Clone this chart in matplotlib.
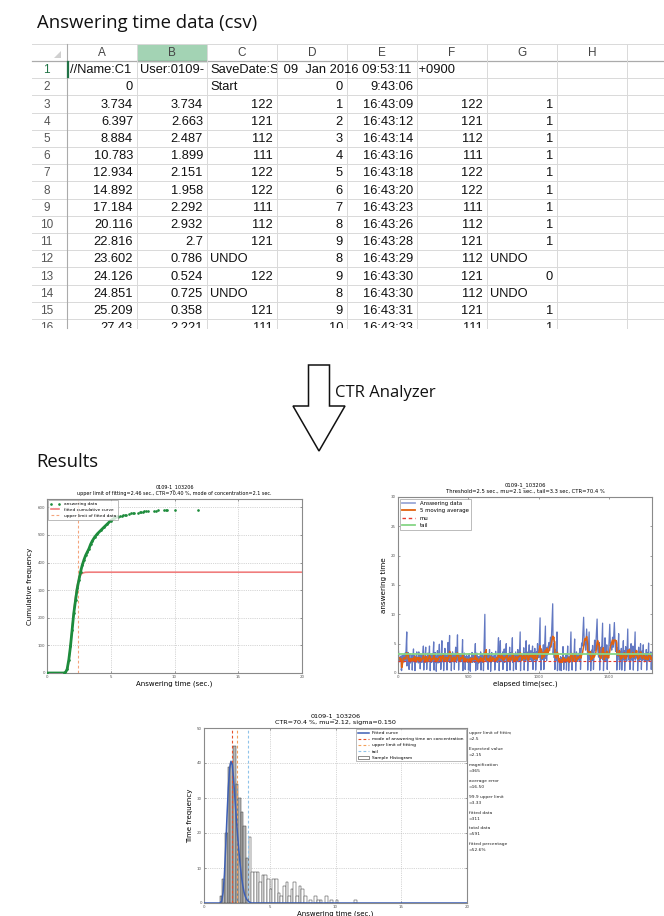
import numpy as np
import matplotlib
matplotlib.use("Agg")
import matplotlib.pyplot as plt
from matplotlib.patches import Polygon, Rectangle, Patch
from matplotlib.lines import Line2D

# ---------------- data ----------------
col_letters = ['A', 'B', 'C', 'D', 'E', 'F', 'G', 'H']
row1_cells = ['//Name:C1', 'User:0109-', 'SaveDate:S', ' 09  Jan 2016 09:53:11  +0900']
sheet_rows = [
    ['0', '', 'Start', '0', '9:43:06', '', ''],
    ['3.734', '3.734', '122', '1', '16:43:09', '122', '1'],
    ['6.397', '2.663', '121', '2', '16:43:12', '121', '1'],
    ['8.884', '2.487', '112', '3', '16:43:14', '112', '1'],
    ['10.783', '1.899', '111', '4', '16:43:16', '111', '1'],
    ['12.934', '2.151', '122', '5', '16:43:18', '122', '1'],
    ['14.892', '1.958', '122', '6', '16:43:20', '122', '1'],
    ['17.184', '2.292', '111', '7', '16:43:23', '111', '1'],
    ['20.116', '2.932', '112', '8', '16:43:26', '112', '1'],
    ['22.816', '2.7', '121', '9', '16:43:28', '121', '1'],
    ['23.602', '0.786', 'UNDO', '8', '16:43:29', '112', 'UNDO'],
    ['24.126', '0.524', '122', '9', '16:43:30', '121', '0'],
    ['24.851', '0.725', 'UNDO', '8', '16:43:30', '112', 'UNDO'],
    ['25.209', '0.358', '121', '9', '16:43:31', '121', '1'],
    ['27.43', '2.221', '111', '10', '16:43:33', '111', '1'],
]

# cumulative chart
cum_x = [0, 1.3, 1.45, 1.58, 1.71, 1.84, 1.97, 2.1, 2.24, 2.37, 2.5, 2.63, 2.76, 2.9, 3.03,
         3.16, 3.29, 3.42, 3.55, 3.74, 3.95, 4.21, 4.47, 4.74, 5.0, 5.26, 5.53]
cum_y = [0, 0, 2, 14, 48, 96, 156, 216, 264, 306, 336, 366, 390, 410, 426,
         438, 450, 466, 478, 492, 504, 516, 528, 540, 552, 560, 566]
tail_x = [5.74, 5.85, 5.97, 6.08, 6.18, 6.45, 6.58, 6.71, 6.84, 7.16, 7.27, 7.39, 7.5,
          7.63, 7.77, 7.9, 8.37, 8.52, 8.68, 9.2, 9.3, 9.4, 10.0, 11.84]
tail_y = [569, 570, 571, 572, 573, 577, 578, 579, 580, 581, 582, 583, 584,
          585, 586, 587, 588, 588, 589, 589, 590, 590, 590, 591]
fitcum_x = [0, 1.3, 1.45, 1.6, 1.7, 1.8, 1.9, 2.0, 2.1, 2.2, 2.3, 2.4, 2.5, 2.6, 2.7,
            2.8, 3.0, 3.3, 20]
fitcum_y = [0, 0, 2, 14, 40, 80, 125, 175, 220, 262, 297, 322, 340, 352, 359,
            362, 364.5, 365, 365]
upper_limit_fitted = 2.46

# answering-time series (sec)
answer_times = [
    3.7, 2.7, 2.5, 1.9, 2.2, 2.0, 2.3, 2.9, 2.7, 0.8, 0.5, 0.7, 0.4, 2.2, 3.0, 2.5, 1.8, 2.4, 3.1, 2.6,
    2.1, 1.9, 3.4, 2.2, 2.8, 7.0, 1.2, 2.0, 2.6, 3.5, 2.3, 1.8, 2.4, 0.6, 2.9, 3.3, 2.1, 1.7, 2.2, 2.5,
    2.0, 2.3, 3.1, 0.5, 2.6, 2.2, 4.1, 1.9, 2.4, 3.0, 2.7, 0.4, 2.1, 2.5, 1.8, 2.9, 3.6, 2.2, 2.0, 2.6,
    2.4, 1.7, 3.6, 2.2, 2.9, 1.9, 2.3, 0.7, 2.6, 3.2, 2.1, 2.5, 1.8, 2.7, 3.1, 4.6, 2.2, 0.5, 2.4, 1.9,
    2.2, 3.0, 4.4, 1.8, 2.5, 2.1, 0.6, 2.8, 2.3, 3.4, 1.9, 2.6, 2.2, 4.6, 2.0, 2.7, 0.4, 3.1, 2.4, 1.8,
    2.6, 2.1, 3.3, 1.9, 2.4, 5.3, 2.0, 0.5, 2.7, 2.2, 3.5, 1.8, 2.3, 2.9, 0.3, 2.5, 2.0, 3.8, 2.2, 1.7,
    2.3, 2.8, 4.9, 2.0, 1.8, 2.5, 3.1, 0.6, 2.2, 5.5, 2.4, 1.9, 2.6, 3.3, 2.1, 0.4, 2.7, 2.0, 4.2, 2.3,
    2.1, 2.6, 1.9, 3.0, 2.4, 0.5, 2.2, 5.2, 2.0, 2.7, 6.4, 1.8, 2.3, 3.4, 2.0, 2.5, 0.4, 2.9, 2.2, 3.6,
    2.4, 1.9, 2.6, 3.2, 2.1, 0.6, 2.3, 2.8, 4.4, 2.0, 2.5, 1.8, 6.5, 2.2, 3.0, 2.4, 0.5, 2.6, 2.1, 3.3,
    2.2, 2.7, 1.9, 2.4, 3.1, 2.0, 5.7, 2.3, 0.4, 2.6, 1.8, 2.5, 3.4, 2.1, 2.8, 0.6, 2.2, 1.9, 2.4, 3.0,
    2.1, 2.5, 1.8, 2.3, 2.9, 2.0, 0.5, 2.4, 3.3, 2.2, 1.9, 2.6, 0.3, 2.1, 2.7, 2.0, 2.4, 3.5, 1.8, 2.3,
    2.6, 2.0, 3.1, 2.3, 1.8, 2.5, 5.0, 2.2, 0.4, 2.7, 2.1, 3.4, 1.9, 2.4, 0.6, 2.0, 2.8, 2.3, 1.7, 2.5,
    2.2, 2.9, 1.9, 3.6, 2.4, 0.5, 2.1, 2.6, 3.2, 2.0, 2.4, 1.8, 2.7, 0.4, 10.0, 2.3, 3.1, 2.0, 2.5, 1.9,
    2.4, 2.0, 2.7, 3.3, 0.6, 2.2, 1.8, 2.5, 4.0, 2.1, 2.6, 2.9, 0.3, 2.3, 1.9, 3.5, 2.2, 2.8, 2.0, 2.4,
    2.1, 2.6, 3.0, 1.9, 2.4, 0.5, 2.2, 3.7, 2.8, 2.0, 2.5, 2.3, 1.8, 2.9, 6.0, 2.1, 2.4, 0.4, 2.7, 5.5,
    2.3, 1.9, 3.2, 2.6, 2.0, 2.4, 3.6, 0.6, 2.2, 2.8, 4.1, 2.1, 1.8, 2.5, 3.0, 5.0, 2.2, 2.7, 0.4, 2.3,
    2.6, 3.3, 2.0, 2.4, 1.9, 4.4, 2.2, 0.5, 2.8, 2.1, 3.5, 2.3, 6.0, 1.8, 2.5, 2.9, 0.4, 2.2, 3.1, 2.0,
    2.4, 2.9, 3.6, 2.1, 0.6, 2.7, 3.2, 2.2, 4.0, 1.9, 2.5, 3.4, 2.0, 7.0, 2.3, 0.4, 2.8, 3.1, 2.2, 2.6,
    2.5, 3.1, 2.2, 4.3, 2.7, 0.5, 3.4, 2.1, 2.9, 5.5, 2.4, 3.6, 2.0, 2.8, 0.4, 3.3, 2.6, 4.8, 2.2, 3.0,
    2.3, 3.8, 2.6, 2.0, 3.2, 4.6, 2.4, 0.6, 3.5, 2.9, 2.2, 4.2, 2.7, 3.1, 0.5, 2.5, 3.6, 2.1, 5.0, 2.8,
    3.4, 2.6, 9.4, 2.2, 3.0, 0.5, 4.1, 2.7, 3.6, 2.3, 4.8, 2.9, 0.6, 3.2, 8.0, 2.5, 3.9, 2.1, 4.4, 3.1,
    4.6, 5.2, 3.8, 6.1, 4.4, 11.8, 3.2, 5.0, 2.6, 4.1, 0.6, 2.4, 3.5, 2.1, 7.0, 2.8, 0.4, 2.3, 3.3, 2.0,
    2.5, 1.9, 2.2, 0.5, 2.4, 2.0, 2.8, 1.8, 2.3, 0.4, 2.1, 2.6, 1.9, 2.2, 4.5, 2.0, 2.4, 0.6, 2.7, 2.1,
    2.3, 1.8, 2.6, 2.0, 3.1, 2.2, 0.5, 2.4, 1.9, 4.6, 2.1, 2.5, 2.0, 0.4, 2.3, 2.8, 1.9, 2.2, 7.0, 2.6,
    2.2, 2.7, 0.5, 2.4, 2.0, 3.3, 2.6, 2.1, 5.8, 2.3, 1.9, 2.8, 0.4, 2.5, 3.6, 2.2, 2.9, 2.0, 3.1, 2.4,
    2.6, 3.4, 2.1, 4.2, 2.8, 0.6, 3.0, 5.1, 4.6, 9.5, 4.8, 5.3, 3.9, 7.5, 4.4, 2.6, 0.5, 3.2, 7.0, 2.4,
    2.2, 3.5, 2.8, 0.4, 2.5, 3.9, 2.1, 4.7, 2.6, 3.1, 0.6, 2.4, 5.6, 3.8, 4.9, 9.2, 4.1, 3.3, 2.7, 5.2,
    2.4, 0.5, 3.0, 2.2, 4.4, 2.7, 8.5, 2.3, 3.6, 0.4, 2.9, 2.1, 6.0, 2.6, 3.2, 2.0, 4.8, 2.5, 0.6, 3.4,
    2.8, 3.5, 8.3, 4.6, 5.2, 3.9, 6.1, 4.4, 8.6, 5.0, 3.7, 5.5, 2.6, 0.5, 4.3, 2.2, 6.7, 2.9, 3.1, 0.6,
    2.4, 3.6, 2.1, 4.2, 2.7, 0.5, 3.3, 2.5, 5.5, 2.2, 3.8, 2.9, 0.4, 2.6, 4.5, 2.3, 3.1, 2.0, 7.5, 2.8,
    3.4, 2.2, 4.1, 2.6, 0.6, 3.0, 5.0, 2.4, 3.5, 2.1, 4.6, 2.8, 0.5, 3.3, 2.5, 7.0, 2.2, 3.9, 2.7, 3.1,
    2.5, 3.2, 0.4, 2.7, 4.4, 2.1, 3.6, 2.9, 5.0, 2.3, 3.0, 0.6, 2.6, 3.8, 2.2, 4.8, 2.4, 3.1, 2.0, 1.9,
    2.6, 3.3, 2.1, 4.0, 2.4, 0.5, 2.8, 3.5, 2.2, 5.1, 2.7, 2.0, 3.0, 2.5, 2.3, 3.6, 2.2, 0.6, 2.9, 2.4,
]
mu_value = 2.1
tail_value = 3.3

# histogram chart
hist_left = [1.2, 1.4, 1.6, 1.8, 2.0, 2.2, 2.4, 2.6, 2.8, 3.0, 3.2, 3.4, 3.6, 3.8, 4.0, 4.2, 4.4,
             4.6, 4.8, 5.0, 5.2, 5.4, 5.6, 5.8, 6.0, 6.2, 6.4, 6.6, 6.8, 7.0, 7.2, 7.4, 7.6,
             8.0, 8.4, 8.6, 8.8, 9.2, 9.6, 10.0, 11.4]
hist_counts = [2, 7, 20, 39, 40, 45, 34, 30, 26, 22, 13, 19, 9, 9, 9, 6, 8,
               8, 7, 4, 7, 7, 3, 2, 5, 6, 2, 4, 6, 2, 5, 4, 2,
               1, 2, 1, 1, 2, 1, 1, 1]
hist_width = 0.2
fitpdf_x = [0, 1.2, 1.35, 1.45, 1.55, 1.65, 1.75, 1.85, 1.95, 2.05, 2.15, 2.25, 2.35, 2.45,
            2.55, 2.65, 2.75, 2.85, 2.95, 3.05, 3.15, 3.25, 3.4, 3.6, 20]
fitpdf_y = [0, 0, 0.5, 3, 8, 16, 25, 33, 38.5, 40.5, 39.5, 35.5, 30, 24.5,
            19.5, 15, 11, 7.5, 5, 3, 1.8, 1, 0.4, 0, 0]
mode_line = 2.1
upper_fit_line = 2.5
tail_line = 3.33
stat_labels = ['upper limit of fitting', 'Expected value', 'magnification', 'average error',
               '99.9 upper limit', 'fitted data', 'total data', 'fitted percentage']
stat_values = ['=2.5', '=2.15', '=365', '=16.50', '=3.33', '=311', '=591', '=52.6%']

# ---------------- figure ----------------
W, H = 664, 916
fig = plt.figure(figsize=(W / 100, H / 100), dpi=100)
fig.patch.set_facecolor('white')
ax0 = fig.add_axes([0, 0, 1, 1])
ax0.set_xlim(0, W)
ax0.set_ylim(H, 0)
ax0.axis('off')

HEAD_FONT = ['Open Sans', 'DejaVu Sans']
CELL_FONT = ['Liberation Sans', 'DejaVu Sans']
CELL_FS = 9.3

ax0.text(37, 23, 'Answering time data (csv)', fontsize=13.3, family=HEAD_FONT,
         va='center', ha='left', color='#111111')

# spreadsheet geometry
rn_x0, rn_x1 = 32, 67
col_w = 70
hdr_top, hdr_bot = 44, 61
row_h = 17.2
clip_y = 328
n_rows = 16
col_edges = [rn_x1 + i * col_w for i in range(10)]
grid_c = '#d9d9d9'


def clip_box(x0, y0, x1, y1):
    return Rectangle((x0, y0), x1 - x0, y1 - y0, transform=ax0.transData)


# green header B
ax0.add_patch(Rectangle((col_edges[1], hdr_top), col_w, hdr_bot - hdr_top,
                        facecolor='#a3d3b4', edgecolor='none'))
ax0.plot([col_edges[1], col_edges[2]], [hdr_bot - 0.5, hdr_bot - 0.5], color='#5f9e74', lw=1.0)
# corner triangle
ax0.add_patch(Polygon([[rn_x1 - 6, hdr_bot - 10], [rn_x1 - 6, hdr_bot - 3], [rn_x1 - 13, hdr_bot - 3]],
                      closed=True, facecolor='#d0d0d0', edgecolor='none'))

# horizontal lines
ax0.plot([rn_x0, W], [hdr_top, hdr_top], color=grid_c, lw=0.7)
ax0.plot([rn_x0, W], [hdr_bot, hdr_bot], color='#ababab', lw=0.9)
for i in range(1, n_rows):
    y = hdr_bot + i * row_h
    ax0.plot([rn_x0, W], [y, y], color=grid_c, lw=0.7)
# vertical lines
for i, x in enumerate(col_edges):
    if x > W:
        break
    c = '#ababab' if i == 0 else grid_c
    ax0.plot([x, x], [hdr_top, clip_y], color=c, lw=0.8 if i == 0 else 0.7)
# selection marker on row 1
ax0.plot([rn_x1 + 1, rn_x1 + 1], [hdr_bot + 1, hdr_bot + row_h - 1], color='#217346', lw=1.6)

# header letters
for i, L in enumerate(col_letters):
    ax0.text(col_edges[i] + col_w / 2, (hdr_top + hdr_bot) / 2 + 0.5, L, ha='center', va='center',
             fontsize=8.5, family=CELL_FONT, color='#444444')

# row numbers
for r in range(1, n_rows + 1):
    yc = hdr_bot + (r - 0.5) * row_h + 0.5
    t = ax0.text((rn_x0 + rn_x1) / 2 - 3, yc, str(r), ha='center', va='center', fontsize=8.5,
                 family=CELL_FONT, color='#217346' if r == 1 else '#555555', clip_on=True)
    t.set_clip_path(clip_box(0, 0, W, clip_y))

# row 1 texts (overflowing, clipped per cell)
yc1 = hdr_bot + 0.5 * row_h + 0.5
for j, s in enumerate(row1_cells):
    x0 = col_edges[j]
    x1 = col_edges[j + 1] if j < 3 else W
    t = ax0.text(x0 + 3, yc1, s, ha='left', va='center', fontsize=CELL_FS, family=CELL_FONT,
                 color='#111111', clip_on=True)
    t.set_clip_path(clip_box(x0 + 1, 0, x1, H))

# rows 2..16
for k, row in enumerate(sheet_rows):
    r = k + 2
    yc = hdr_bot + (r - 0.5) * row_h + 0.5
    for j, s in enumerate(row):
        if s == '':
            continue
        if s in ('Start', 'UNDO'):
            t = ax0.text(col_edges[j] + 3, yc, s, ha='left', va='center', fontsize=CELL_FS,
                         family=CELL_FONT, color='#111111', clip_on=True)
        else:
            t = ax0.text(col_edges[j + 1] - 4, yc, s, ha='right', va='center', fontsize=CELL_FS,
                         family=CELL_FONT, color='#111111', clip_on=True)
        t.set_clip_path(clip_box(0, 0, W, clip_y))

# arrow
arrow_pts = [[308.5, 365], [329.5, 365], [329.5, 406], [345, 406], [319, 451], [293, 406], [308.5, 406]]
ax0.add_patch(Polygon(arrow_pts, closed=True, facecolor='white', edgecolor='#111111', lw=1.1))
ax0.text(335, 393, 'CTR Analyzer', fontsize=12, family=HEAD_FONT, va='center', ha='left',
         color='#111111')
ax0.text(36, 462, 'Results', fontsize=13.3, family=HEAD_FONT, va='center', ha='left', color='#111111')

# right-hand statistics of chart 3
for i, (lab, val) in enumerate(zip(stat_labels, stat_values)):
    y = 733 + i * 15.9
    for s, yy in ((lab, y), (val, y + 6)):
        t = ax0.text(469, yy, s, fontsize=3.2, ha='left', va='center', color='#222222',
                     family=['DejaVu Sans'], clip_on=True)
        t.set_clip_path(clip_box(0, 0, 511, H))


def fig_rect(l, t, r, b):
    return [l / W, 1 - b / H, (r - l) / W, (b - t) / H]


def style_axes(ax):
    for sp in ax.spines.values():
        sp.set_color('#8a8a8a')
        sp.set_linewidth(0.8)
    ax.tick_params(labelsize=2.9, length=1.5, width=0.4, direction='in', colors='#555555',
                   pad=1.5, top=True, right=True)


# ---------- chart 1: cumulative ----------
green = '#1d8c3c'
ax1 = fig.add_axes(fig_rect(47, 499, 302, 673))
style_axes(ax1)
ax1.grid(True, ls=':', color='#b0b0b0', lw=0.5)
ax1.plot(fitcum_x, fitcum_y, color='#f07d7d', lw=1.2, zorder=3)
ax1.plot(cum_x, cum_y, color=green, lw=2.0, marker='.', ms=1.8, zorder=4)
ax1.plot(tail_x, tail_y, ls='none', marker='.', ms=1.8, color=green, zorder=4)
ax1.axvline(upper_limit_fitted, color='#f5a47c', ls='--', lw=0.8, dashes=(2.5, 2), zorder=2)
ax1.set_xlim(0, 20)
ax1.set_ylim(0, 630)
ax1.set_xticks([0, 5, 10, 15, 20])
ax1.set_yticks([0, 100, 200, 300, 400, 500, 600])
ax1.set_xlabel('Answering time (sec.)', fontsize=5, labelpad=1)
ax1.set_ylabel('Cumulative frequency', fontsize=5, labelpad=3)
ax1.set_title('0109-1_103206\nupper limit of fitting=2.46 sec., CTR=70.40 %, mode of concentration=2.1 sec.',
              fontsize=3.5, pad=3, linespacing=1.2)
h1 = [Line2D([], [], ls='none', marker='.', ms=1.8, color=green),
      Line2D([], [], color='#f07d7d', lw=1.2),
      Line2D([], [], color='#f5a47c', ls='--', lw=0.8, dashes=(2.5, 2))]
lg1 = ax1.legend(h1, ['answering data', 'fitted cumulative curve', 'upper limit of fitted data'],
                 loc='upper left', fontsize=3.1, numpoints=2, frameon=True, fancybox=False,
                 borderpad=0.4, handlelength=2.5, labelspacing=0.45, borderaxespad=0.3)
lg1.get_frame().set_edgecolor('#8a8a8a')
lg1.get_frame().set_linewidth(0.5)

# ---------- chart 2: time series ----------
times = np.array(answer_times)
elapsed = np.cumsum(times)
ma5 = np.convolve(times, np.ones(5) / 5, mode='valid')
ax2 = fig.add_axes(fig_rect(398, 497, 652, 673))
style_axes(ax2)
ax2.plot(elapsed, times, color='#1f3fa8', alpha=0.7, lw=0.9, zorder=2)
ax2.plot(elapsed[4:], ma5, color='#e0620f', lw=1.1, zorder=3)
ax2.axhline(mu_value, color='#e63a2e', ls='--', lw=0.8, dashes=(2.5, 2), zorder=4)
ax2.axhline(tail_value, color='#86d686', lw=1.3, zorder=5)
ax2.set_xlim(0, elapsed[-1])
ax2.set_ylim(0, 30)
ax2.set_xticks([0, 500, 1000, 1500])
ax2.set_yticks([0, 5, 10, 15, 20, 25, 30])
ax2.set_xlabel('elapsed time(sec.)', fontsize=5, labelpad=1)
ax2.set_ylabel('answering time', fontsize=5.2, labelpad=3)
ax2.set_title('0109-1_103206\nThreshold=2.5 sec., mu=2.1 sec., tail=3.3 sec, CTR=70.4 %',
              fontsize=3.8, pad=3, linespacing=1.2)
h2 = [Line2D([], [], color='#1f3fa8', alpha=0.45, lw=1.3),
      Line2D([], [], color='#e0620f', lw=1.3),
      Line2D([], [], color='#e63a2e', ls='--', lw=1.0, dashes=(2.5, 2)),
      Line2D([], [], color='#86d686', lw=1.3)]
lg2 = ax2.legend(h2, ['Answering data', '5 moving average', 'mu', 'tail'], loc='upper left',
                 fontsize=3.9, frameon=True, fancybox=False, borderpad=0.4, handlelength=2.5,
                 labelspacing=0.45, borderaxespad=0.3)
lg2.get_frame().set_edgecolor('#8a8a8a')
lg2.get_frame().set_linewidth(0.5)

# ---------- chart 3: histogram ----------
ax3 = fig.add_axes(fig_rect(204, 728, 467, 903))
style_axes(ax3)
ax3.grid(True, ls=':', color='#b0b0b0', lw=0.5)
bar_colors = ['#b8b8b8' if x < 3.4 else 'white' for x in hist_left]
ax3.bar(hist_left, hist_counts, width=hist_width, align='edge', color=bar_colors,
        edgecolor='#333333', lw=0.35, zorder=2)
ax3.plot(fitpdf_x, fitpdf_y, color='#3d5fb5', lw=1.1, zorder=4)
ax3.axvline(mode_line, color='#e4502a', ls='--', lw=0.8, dashes=(2.5, 2), zorder=3)
ax3.axvline(upper_fit_line, color='#f3a05a', ls='--', lw=0.8, dashes=(2.5, 2), zorder=3)
ax3.axvline(tail_line, color='#8fc3ea', ls='--', lw=0.8, dashes=(2.5, 2), zorder=3)
ax3.set_xlim(0, 20)
ax3.set_ylim(0, 50)
ax3.set_xticks([0, 5, 10, 15, 20])
ax3.set_yticks([0, 10, 20, 30, 40, 50])
ax3.set_xlabel('Answering time (sec.)', fontsize=5, labelpad=1)
ax3.set_ylabel('Time frequency', fontsize=5, labelpad=3)
ax3.set_title('0109-1_103206\nCTR=70.4 %, mu=2.12, sigma=0.150', fontsize=4.6, pad=3, linespacing=1.15)
h3 = [Line2D([], [], color='#3d5fb5', lw=1.1),
      Line2D([], [], color='#e4502a', ls='--', lw=0.8, dashes=(2.5, 2)),
      Line2D([], [], color='#f3a05a', ls='--', lw=0.8, dashes=(2.5, 2)),
      Line2D([], [], color='#8fc3ea', ls='--', lw=0.8, dashes=(2.5, 2)),
      Patch(facecolor='white', edgecolor='#333333', lw=0.4)]
lg3 = ax3.legend(h3, ['Fitted curve', 'mode of answering time on concentration', 'upper limit of fitting',
                      'tail', 'Sample Histogram'], loc='upper right', fontsize=3.2, frameon=True,
                 fancybox=False, borderpad=0.4, handlelength=2.5, labelspacing=0.45, borderaxespad=0.3)
lg3.get_frame().set_edgecolor('#8a8a8a')
lg3.get_frame().set_linewidth(0.5)

fig.savefig('out.png', dpi=100, facecolor='white')
